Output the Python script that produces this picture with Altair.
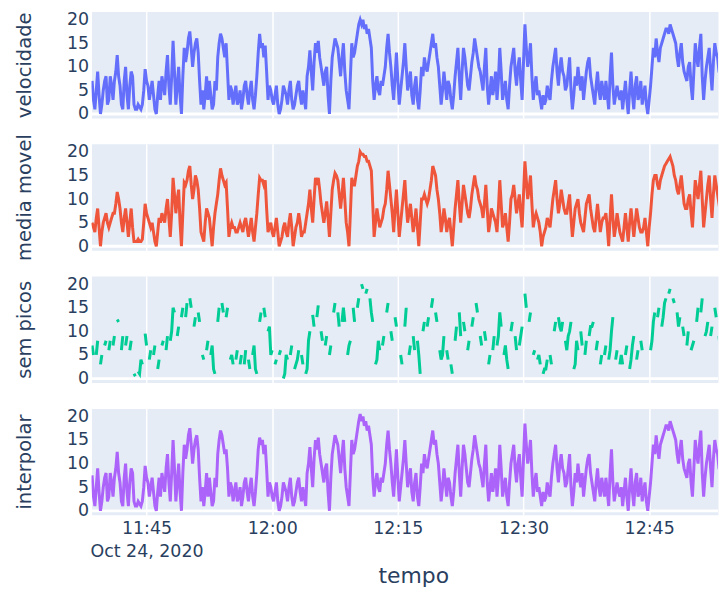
import altair as alt
import pandas as pd

# ---- data (one sample every 10 s from 11:38:30) ----
start_time = "2020-10-24 11:38:30"
step = "10s"

velocidade = [
    7, 3, 1, 5, 9, 4, 0, 2, 5, 7, 8, 2, 3, 8, 6, 3, 7, 9, 12.5, 8,
    6, 2, 1, 7, 10, 4, 1, 6, 9, 8, 2, 1, 1, 2, 1.5, 1, 2, 5, 9.5, 7,
    6, 3, 5, 7, 4, 1, 0, 4, 7, 3, 8, 6, 4, 9, 12.5, 6, 2, 8, 15.5, 9,
    2, 6, 10, 4, 0, 8, 14, 11, 13, 16, 17.5, 14, 10, 13, 15, 16, 13, 7, 2, 5,
    1, 4, 8, 3, 7, 4, 1, 2, 7, 5, 12, 15, 17, 16, 14, 12, 15, 9, 3, 6,
    5, 2, 4, 6, 2, 3, 5, 1, 3, 6, 7, 4, 2, 5, 7, 3, 1, 4, 8, 13,
    17, 14, 15, 12, 14.5, 9, 3, 6, 5, 3, 2, 4, 6, 2, 0, 1, 3, 6, 5, 4,
    2, 5, 7, 3, 1, 2, 4, 6, 7, 4, 2, 5, 3, 1, 8, 10, 13.5, 9, 5, 11,
    15, 13, 15.5, 12, 10, 8, 6, 9, 10, 4, 0, 7, 12, 14, 16, 15, 14, 11, 8, 12,
    15, 9, 5, 3, 1, 8, 15, 12, 13, 15, 17, 19, 20, 19, 20, 18, 19, 17, 18, 16,
    14, 7, 3, 6, 8, 5, 4, 7, 6, 8, 10, 14, 17, 13, 10, 6, 3, 8, 13, 7,
    2, 5, 8, 11, 15, 10, 5, 7, 9, 4, 2, 6, 8, 3, 1, 5, 10, 8, 12, 10,
    9, 11, 13, 15, 17, 14, 15, 12, 10, 6, 2, 5, 9, 6, 3, 7, 6, 3, 1, 4,
    8, 11, 14, 8, 3, 9, 14, 12, 9, 6, 5, 8, 11, 13, 16, 14, 12, 10, 9, 7,
    5, 10, 14, 6, 2, 5, 8, 4, 6, 9, 3, 7, 14, 9, 3, 5, 7, 3, 1, 6,
    10, 12, 14, 9, 6, 10, 12, 7, 3, 11, 19, 14, 10, 12, 15, 8, 3, 6, 8, 4,
    5, 3, 1, 4, 2, 3, 6, 4, 3, 7, 10, 12, 14, 9, 6, 10, 12, 9, 8, 5,
    6, 9, 12, 5, 1, 4, 8, 6, 10, 7, 5, 8, 3, 6, 9, 11, 12, 8, 6, 4,
    2, 6, 9, 5, 3, 7, 5, 3, 7, 4, 1, 8, 13, 6, 2, 4, 6, 4, 3, 5,
    1, 4, 7, 3, 0, 5, 9, 4, 1, 6, 8, 3, 4, 7, 2, 4, 6, 2, 0, 3,
    6, 10, 14, 12, 16, 13, 11, 14, 15, 16, 17, 18, 18, 17, 19, 18, 17, 16, 15, 12,
    10, 13, 15, 11, 9, 8, 7, 10, 11, 6, 3, 9, 15, 12, 10, 14, 17, 8, 3, 7,
    10, 12, 14, 9, 5, 11, 15, 13, 12, 9, 8, 3, 0,
]

media_movel = [
    5, 4, 3, 6, 8, 4, 0, 3, 5, 6, 7, 5, 4, 5, 6, 7, 7, 9, 11.5, 10,
    8, 5, 3, 6, 8, 5, 2, 5, 8, 4, 1, 1, 1, 1.5, 1, 1, 1.5, 5, 9, 7,
    6, 5, 4, 5, 3, 1, 0, 3, 6, 5, 7, 6, 5, 8, 10, 6, 2, 7, 14.5, 11,
    7, 10, 12, 5, 0, 7, 13.5, 13, 14, 16, 17, 13, 10, 12, 15, 14, 12, 8, 3, 2,
    1, 5, 8, 7, 6, 3, 0, 4, 7, 9, 11, 14, 16.5, 15, 14, 13, 13.5, 8, 2, 4,
    5, 4, 4, 3, 3, 4, 5, 4, 3, 5, 6, 4, 2, 4, 6, 3, 1, 4, 7, 11,
    14.5, 14, 14, 13, 14, 8, 3, 4, 5, 3, 2, 4, 6, 3, 0, 1, 2, 4, 5, 3,
    2, 5, 7, 4, 0, 2, 4, 5, 7, 5, 2, 3, 3, 5, 7, 9, 12, 8, 5, 10,
    14.5, 13, 14.5, 12, 9, 7, 5, 7, 9.5, 6, 2, 7, 12, 14, 15.5, 15, 14, 11, 8, 11,
    14.5, 10, 5, 3, 0, 7, 14.5, 13, 13, 15, 17, 18, 20, 19.5, 19.5, 19, 19, 18, 18, 17,
    16, 9, 2, 5, 8, 6, 4, 5, 6, 8, 9, 12, 16, 13, 10, 7, 3, 8, 12, 7,
    2, 5, 8, 11, 14, 9, 5, 7, 9, 6, 3, 5, 8, 4, 0, 5, 10, 10, 11, 10,
    9, 10, 12, 14, 17, 16, 15, 12, 10, 7, 3, 5, 8, 6, 3, 5, 6, 3, 0, 4,
    8, 11, 14, 9, 5, 9, 13, 11, 9, 7, 6, 8, 11, 13, 15, 13, 12, 10, 9, 8,
    6, 9, 13, 8, 3, 5, 8, 7, 6, 5, 3, 8, 14, 9, 4, 5, 7, 4, 1, 5,
    10, 11, 13, 10, 7, 9, 11, 7, 4, 11, 18, 14, 10, 12, 15, 9, 4, 6, 7, 6,
    5, 3, 0, 2, 3, 4, 6, 5, 4, 7, 10, 12, 14, 10, 7, 9, 12, 10, 8, 7,
    7, 9, 11, 6, 2, 5, 8, 9, 10, 7, 5, 4, 3, 6, 9, 10, 11, 8, 6, 4,
    3, 6, 9, 6, 3, 5, 6, 6, 7, 4, 0, 6, 11, 6, 2, 4, 7, 5, 3, 2,
    1, 4, 7, 4, 1, 5, 8, 5, 2, 5, 8, 6, 4, 3, 3, 4, 6, 3, 0, 4,
    7, 11, 14, 15, 15, 13, 12, 14, 15, 16, 17, 17.5, 18, 18.5, 19, 18, 17, 15, 14, 12,
    11, 13, 15, 12, 9, 8, 8, 10, 11, 7, 4, 9, 14, 12, 10, 13, 16, 10, 4, 7,
    10, 13, 15, 10, 6, 11, 15, 13, 11, 9, 7, 3, 0,
]

N_ = None
sem_picos = [
    7, 5, N_, 5, 8, N_, 3, 5, N_, 7, 8, N_, 6, 8, N_, 7, 9, N_, 12.5, 12,
    N_, 6, 9, N_, 7, 9, N_, 6, 8, N_, 1, 0.5, N_, 1.5, 1, 4, 3, N_, 9.5, 7,
    N_, 4, 6, N_, 5, 7, N_, 2, 4, N_, 7, 8, N_, 6, 9, N_, 8, 10, 15, 14,
    N_, 9, 11, N_, 13, 15, N_, 13, 16, N_, 17, 15, N_, 11, 13, N_, 14, 12, N_, 5,
    4, N_, 6, 8, N_, 5, 7, 2, 1, N_, 12, 15, N_, 16, 14, N_, 13, 15, N_, 4,
    5, 3, N_, 4, 6, N_, 3, 5, N_, 3, 6, N_, 4, 2, N_, 5, 7, 2, 1, N_,
    12, 14, N_, 15, 13, N_, 10, 11, 5, 6, N_, 3, 4, N_, 5, 6, N_, 0, 1, 5,
    4, N_, 5, 7, N_, 2, 3, 4, 6, N_, 5, 3, N_, 1, 2, 8, 10, N_, 13.5, 11,
    N_, 13, 15.5, N_, 10, 8, N_, 7, 9, N_, 5, 7, N_, 14, 16, N_, 14, 11, N_, 12,
    15, 12, N_, 5, 7, 8, N_, 15, 12, N_, 15, 17, N_, 20, 19, N_, 18, 19, N_, 17,
    14, 12, N_, 3, 4, 8, 6, N_, 7, 9, N_, 14, 16, N_, 10, 8, N_, 13, 11, N_,
    N_, 5, 3, N_, 11, 15, N_, 5, 7, N_, 9, 6, N_, 8, 5, 1, N_, 10, 12, N_,
    11, 13, N_, 15, 17, N_, 14, 12, N_, 6, 4, 5, 9, N_, 6, 4, N_, 3, 1, N_,
    8, 11, N_, 14, 9, N_, 12, 10, N_, 6, 8, N_, 11, 13, N_, 16, 14, N_, 9, 7,
    N_, 10, 8, N_, 3, 5, N_, 6, 9, N_, 7, 9, 14, 11, N_, 5, 7, 4, 2, N_,
    10, 12, N_, 9, 6, N_, 7, 9, 11, N_, 18, 15, N_, 12, 14, N_, 5, 6, N_, 4,
    5, 3, N_, 1, 2, 2, 4, N_, 5, 3, N_, 10, 12, N_, 13, 11, 10, 12, N_, 8,
    6, 9, 10, 12, N_, 2, 3, 8, 6, N_, 10, 7, N_, 5, 8, N_, 9, 11, 11, 12,
    N_, 6, 8, N_, 3, 5, N_, 5, 7, N_, 4, 6, 10, 13, N_, 4, 6, N_, 3, 5,
    3, N_, 5, 7, N_, 2, 4, 7, 9, N_, 4, 6, N_, 8, 6, N_, N_, N_, N_, N_,
    6, 8, 12, 14, N_, 13, 15, N_, 11, 13, 16, 17, N_, 18, 19, N_, 17, 16, N_, 14,
    11, 13, N_, 11, 9, N_, 7, 10, N_, 6, 7, 8, N_, 12, 15, N_, 14, 17, N_, 9,
    10, 12, N_, 9, 11, N_, 15, 13, N_, 9, 6, 3, 0,
]

interpolar = [
    7.5, 3, 1, 5, 9, 4, 0, 2, 5, 7, 8, 2, 3, 8, 6, 3, 7, 9, 12.5, 8,
    6, 2, 1, 7, 10, 4, 1, 6, 9, 8, 2, 1, 1, 2, 1.5, 1, 2, 5, 9.5, 7,
    6, 3, 5, 7, 4, 1, 0, 4, 7, 3, 8, 6, 4, 9, 12, 6, 2, 8, 15, 9,
    2, 6, 10, 4, 0, 8, 14, 11, 13, 16, 17.5, 14, 10, 13, 15, 16, 13, 7, 2, 5,
    1, 4, 8, 3, 7, 4, 1, 2, 7, 5, 12, 15, 17, 16, 14, 12, 13, 9, 3, 6,
    5, 2, 4, 6, 2, 3, 5, 1, 3, 6, 7, 4, 2, 5, 7, 3, 1, 4, 8, 13,
    15.5, 14, 15, 12, 14, 9, 3, 6, 5, 3, 2, 4, 6, 2, 0, 1, 3, 6, 5, 4,
    2, 5, 7, 3, 1, 2, 4, 6, 7, 4, 2, 5, 3, 1, 8, 10, 13.5, 9, 5, 11,
    15, 13, 15.5, 12, 10, 8, 6, 9, 10, 4, 0, 7, 12, 14, 16, 15, 14, 11, 8, 12,
    15, 9, 5, 3, 1, 8, 15, 12, 13, 15, 17, 19, 20.5, 19, 20, 18, 19, 17, 18, 16,
    14, 7, 3, 6, 8, 5, 4, 7, 6, 8, 10, 14, 17, 13, 10, 6, 3, 8, 13, 7,
    2, 5, 8, 11, 15, 10, 5, 7, 9, 4, 2, 6, 8, 3, 1, 5, 10, 8, 12, 10,
    9, 11, 13, 15, 17, 14, 15, 12, 10, 6, 2, 5, 9, 6, 3, 7, 6, 3, 1, 4,
    8, 11, 14, 8, 3, 9, 14, 12, 9, 6, 5, 8, 11, 13, 16, 14, 12, 10, 9, 7,
    5, 10, 14, 6, 2, 5, 8, 4, 6, 9, 3, 7, 14, 9, 3, 5, 7, 3, 1, 6,
    10, 12, 14, 9, 6, 10, 12, 7, 3, 11, 18.5, 14, 10, 12, 15, 8, 3, 6, 8, 4,
    5, 3, 1, 4, 2, 3, 6, 4, 3, 7, 10, 12, 14, 9, 6, 10, 12, 9, 8, 5,
    6, 9, 12, 5, 1, 4, 8, 6, 10, 7, 5, 8, 3, 6, 9, 11, 12, 8, 6, 4,
    2, 6, 9, 5, 3, 7, 5, 3, 7, 4, 1, 8, 13, 6, 2, 4, 6, 4, 3, 5,
    1, 4, 7, 3, 0, 5, 9, 4, 1, 6, 8, 3, 4, 7, 2, 4, 6, 2, 0, 3,
    6, 10, 14, 12, 16, 13, 11, 14, 15, 16, 17, 18, 18, 17, 19, 18, 17, 16, 15, 12,
    10, 13, 15, 11, 9, 8, 7, 10, 11, 6, 3, 9, 15, 12, 10, 14, 17, 8, 3, 7,
    10, 12, 14, 9, 5, 11, 15, 13, 12, 9, 8, 3, 0,
]

series_names = ["velocidade", "media movel", "sem picos", "interpolar"]
series_colors = ["#636EFA", "#EF553B", "#00CC96", "#AB63FA"]
series_values = [velocidade, media_movel, sem_picos, interpolar]

tick_times = ["11:45", "12:00", "12:15", "12:30", "12:45"]
date_label = "Oct 24, 2020"
y_ticks = [0, 5, 10, 15, 20]
x_title = "tempo"


def dt(hh, mm, ss=0):
    return alt.DateTime(year=2020, month=10, date=24, hours=hh, minutes=mm, seconds=ss)


x_domain = [dt(11, 38, 26), dt(12, 53, 13)]
x_values = [dt(int(t.split(":")[0]), int(t.split(":")[1])) for t in tick_times]
tempo = pd.date_range(start_time, periods=len(velocidade), freq=step)

label_expr = (
    "datum.index == 0 ? [timeFormat(datum.value, '%H:%M'), '" + date_label + "']"
    " : timeFormat(datum.value, '%H:%M')"
)

W, H = 630, 107


def panel(name, color, values, bottom):
    df = pd.DataFrame({"tempo": tempo, "valor": pd.Series(values, dtype="float")})
    df["seg"] = df["valor"].isna().cumsum()
    df = df.dropna().reset_index(drop=True)

    if bottom:
        xaxis = alt.Axis(values=x_values, labelExpr=label_expr, title=x_title,
                         labelPadding=5, labelLineHeight=23, titleFontSize=22,
                         titlePadding=6, titleX=323.5, grid=True)
    else:
        xaxis = alt.Axis(values=x_values, labels=False, title=None, grid=True)

    yaxis = alt.Axis(values=y_ticks, title=name, labelPadding=3, titlePadding=32,
                     labelOverlap=False)
    yscale = alt.Scale(domain=[-0.85, 21.7], nice=False, zero=False)

    line = alt.Chart(df).mark_line(color=color, strokeWidth=3, clip=True).encode(
        x=alt.X("tempo:T", scale=alt.Scale(domain=x_domain), axis=xaxis),
        y=alt.Y("valor:Q", scale=yscale, axis=yaxis),
        detail="seg:N",
    )
    zero = alt.Chart(pd.DataFrame({"z": [0]})).mark_rule(
        color="white", strokeWidth=2.8).encode(
        y=alt.YDatum(0, type="quantitative", scale=yscale, axis=yaxis))
    return alt.layer(zero, line).properties(width=W, height=H)


charts = [panel(n, c, v, i == 3) for i, (n, c, v) in
          enumerate(zip(series_names, series_colors, series_values))]

chart = alt.vconcat(*charts, spacing=26, bounds="flush").properties(
    padding={"left": 6, "top": 0, "right": 0, "bottom": 0}
).configure(font="DejaVu Sans").configure_view(
    fill="#E5ECF6", stroke="transparent"
).configure_axis(
    gridColor="white", gridWidth=1.5, labelColor="#2a3f5f", titleColor="#2a3f5f",
    labelFontSize=17.5, titleFontSize=19.6, titleFontWeight="normal",
    labelFont="DejaVu Sans", titleFont="DejaVu Sans",
    domain=False, ticks=False, tickSize=0,
)

chart.save("out.html", embed_options={"renderer": "svg", "actions": False})
